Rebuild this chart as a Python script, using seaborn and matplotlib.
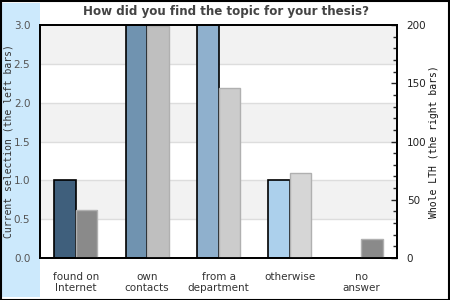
import numpy as np
import pandas as pd
import matplotlib
matplotlib.use("Agg")
import matplotlib.pyplot as plt
from matplotlib.patches import Rectangle
from matplotlib.ticker import MultipleLocator
import seaborn as sns

categories = ["found on\nInternet", "own\ncontacts", "from a\ndepartment", "otherwise", "no\nanswer"]
current_selection = [1.0, 3.0, 3.0, 1.0, 0.0]
whole_lth = [41, 199, 146, 73, 16]
left_colors = ["#3f5f7c", "#7093b0", "#8fb0cd", "#acd0ec", "#3f5f7c"]
right_colors = ["#8a8a8a", "#bfbfbf", "#cccccc", "#d6d6d6", "#8a8a8a"]

sns.set_style("white")
plt.rcParams["font.family"] = ["DejaVu Sans"]

fig = plt.figure(figsize=(4.5, 3), dpi=100)
ax = fig.add_axes([40 / 450, 1 - 258 / 300, 357 / 450, 233 / 300])
ax2 = ax.twinx()

n = len(categories)
df_left = pd.DataFrame({
    "cat": categories * 2,
    "series": ["cur"] * n + ["lth"] * n,
    "val": current_selection + [np.nan] * n,
})
df_right = pd.DataFrame({
    "cat": categories * 2,
    "series": ["cur"] * n + ["lth"] * n,
    "val": [np.nan] * n + whole_lth,
})

# background bands & grid on left scale
for lo in [0.5, 1.5, 2.5]:
    ax.axhspan(lo, lo + 0.5, color="#f2f2f2", zorder=0, lw=0)
for y in np.arange(0.5, 3.0, 0.5):
    ax.axhline(y, color="#dddddd", lw=1, zorder=0.5)

sns.barplot(data=df_left, x="cat", y="val", hue="series", hue_order=["cur", "lth"],
            width=0.6, ax=ax, legend=False, errorbar=None, saturation=1,
            edgecolor="black", linewidth=1.2, zorder=2)
sns.barplot(data=df_right, x="cat", y="val", hue="series", hue_order=["cur", "lth"],
            width=0.6, ax=ax2, legend=False, errorbar=None, saturation=1,
            edgecolor="#b0b0b0", linewidth=1, zorder=2)

lp = [p for p in ax.patches if isinstance(p, Rectangle) and np.isfinite(p.get_height()) and p.get_width() < 1]
for p, c in zip(lp, left_colors):
    p.set_facecolor(c)
    if p.get_height() == 0:
        p.set_visible(False)
rp = [p for p in ax2.patches if isinstance(p, Rectangle) and np.isfinite(p.get_height()) and p.get_width() < 1]
for p, c in zip(rp, right_colors):
    p.set_facecolor(c)

ax.set_ylim(0, 3.0)
ax2.set_ylim(0, 200)
ax.set_xlim(-0.5, n - 0.5)
ax.yaxis.set_major_locator(MultipleLocator(0.5))
ax2.yaxis.set_major_locator(MultipleLocator(50))
ax2.yaxis.set_minor_locator(MultipleLocator(10))

ax.set_xlabel("")
ax.set_ylabel("Current selection (the left bars)", family="DejaVu Sans Mono",
              fontsize=7, color="#333333")
ax.yaxis.set_label_coords(-26 / 357, 0.5)
ax2.set_ylabel("Whole LTH (the right bars)", family="DejaVu Sans Mono",
               fontsize=7, color="#111111")
ax2.yaxis.set_label_coords(1 + 32 / 357, 0.5)

ax.tick_params(axis="y", length=0, labelsize=7.5, labelcolor="#555555", pad=7)
ax.tick_params(axis="x", length=0, labelsize=7.5, labelcolor="#333333", pad=10)
for lab in ax.get_xticklabels():
    lab.set_verticalalignment("top")
    lab.set_linespacing(1.2)
ax2.tick_params(axis="y", which="major", direction="in", length=4, width=1,
                labelsize=7.5, labelcolor="#222222", pad=7)
ax2.tick_params(axis="y", which="minor", direction="in", length=3, width=1)

for a in (ax, ax2):
    for s in a.spines.values():
        s.set_color("black")
        s.set_linewidth(1.3)
        s.set_visible(True)

fig.text(226 / 450, 1 - 12 / 300, "How did you find the topic for your thesis?",
         fontsize=8.6, fontweight="bold", color="#444444", ha="center", va="center")

# left blue panel and frame
fig.patches.append(Rectangle((2 / 450, 3 / 300), 38 / 450, 294 / 300,
                             transform=fig.transFigure, facecolor="#cce9fc",
                             edgecolor="none", zorder=-1))
fig.patches.append(Rectangle((0.5 / 450, 0.5 / 300), 448.5 / 450, 298.5 / 300,
                             transform=fig.transFigure, facecolor="none",
                             edgecolor="black", linewidth=1.5, zorder=10))

fig.savefig("out.png", dpi=100)
